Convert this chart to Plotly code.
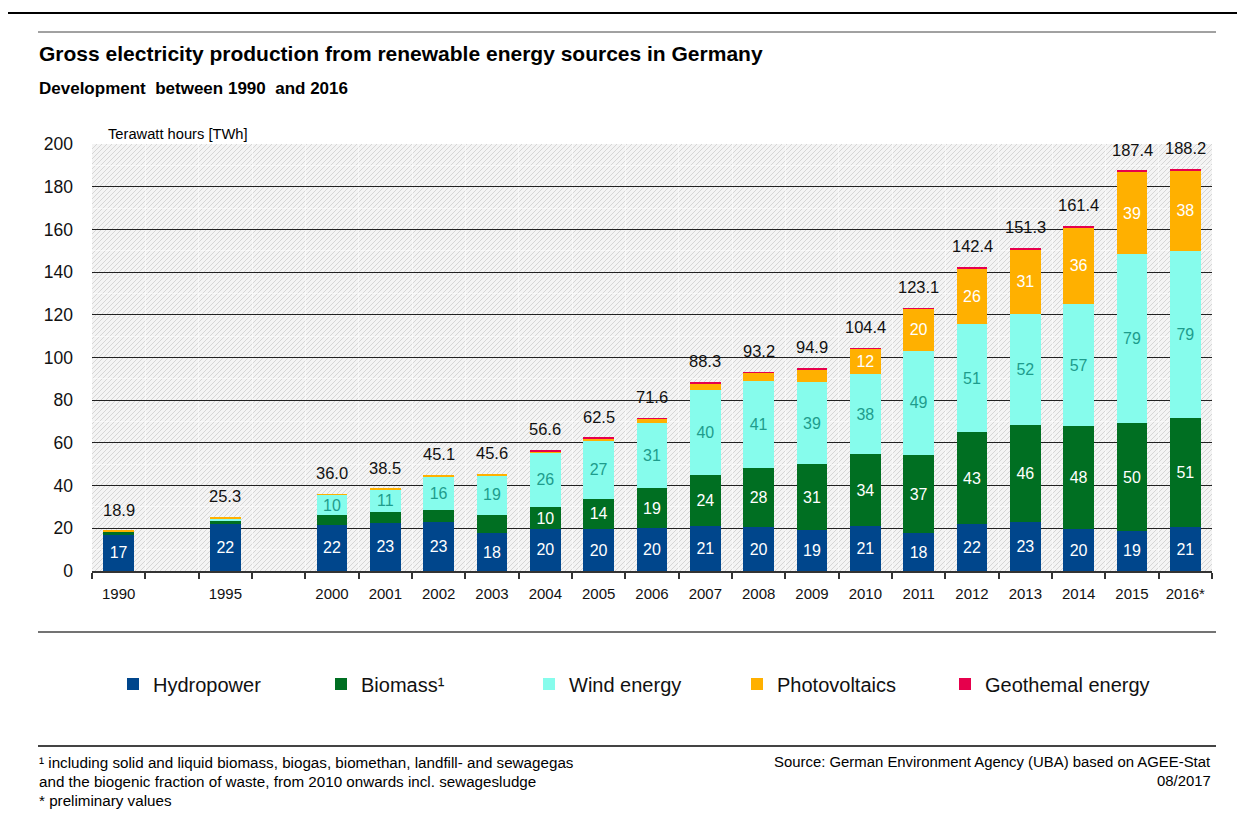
import base64
import plotly.graph_objects as go

# ---------------- data ----------------
years = ["1990", "1995", "2000", "2001", "2002", "2003", "2004", "2005", "2006", "2007",
         "2008", "2009", "2010", "2011", "2012", "2013", "2014", "2015", "2016*"]
hydro = [16.9, 21.8, 21.7, 22.7, 23.1, 17.8, 19.7, 19.6, 20.0, 21.2,
         20.4, 19.0, 21.0, 17.7, 21.8, 23.0, 19.6, 18.8, 20.6]
biomass = [1.5, 1.8, 4.3, 4.8, 5.3, 8.5, 10.2, 14.3, 18.8, 24.0,
           27.8, 30.9, 33.7, 36.6, 43.2, 45.5, 48.1, 50.3, 50.9]
wind = [0.1, 1.2, 9.6, 10.6, 15.9, 18.6, 25.7, 27.0, 30.7, 39.7,
        40.6, 38.6, 37.6, 48.9, 50.7, 51.7, 57.4, 79.2, 78.6]
pv = [0.4, 0.5, 0.4, 0.4, 0.8, 0.7, 0.5, 1.1, 1.7, 3.0,
      4.0, 6.0, 11.7, 19.6, 26.2, 30.6, 35.8, 38.6, 37.6]
geo = [0.0, 0.0, 0.0, 0.0, 0.0, 0.0, 0.4, 0.4, 0.4, 0.4,
       0.4, 0.4, 0.4, 0.3, 0.5, 0.5, 0.5, 0.5, 0.5]
totals = [18.9, 25.3, 36.0, 38.5, 45.1, 45.6, 56.6, 62.5, 71.6, 88.3,
          93.2, 94.9, 104.4, 123.1, 142.4, 151.3, 161.4, 187.4, 188.2]
gap_after = ["1990", "1995"]  # empty category slot after these years

series_names = ["Hydropower", "Biomass\u00b9", "Wind energy", "Photovoltaics", "Geothemal energy"]
series_values = [hydro, biomass, wind, pv, geo]
series_colors = ["#00468C", "#006F22", "#86FCEC", "#FFB000", "#E6004C"]
label_colors = ["white", "white", "#1E9C8C", "white", "white"]
label_min = [0, 9.5, 9.5, 9.5, 1000]

# category order with gap slots
cat_order = []
gap_i = 0
for y in years:
    cat_order.append(y)
    if y in gap_after:
        gap_i += 1
        cat_order.append(" " * gap_i)

# ---------------- geometry helpers (screen pixels; page body has 8px margin) ----------------
OFF = 8
W, H = 1245 - OFF, 816 - OFF
L, R, T, B = 92, 1212, 144, 571          # plot area in screen pixels
PW, PH = R - L, B - T


def X(px):
    return (px - L) / PW


def Y(py):
    return (B - py) / PH


FONT = "Liberation Sans, Arial, sans-serif"

fig = go.Figure()
for name, vals, col, lc, mn in zip(series_names, series_values, series_colors, label_colors, label_min):
    fig.add_trace(go.Bar(
        x=years, y=vals, name=name,
        marker=dict(color=col, line=dict(width=0)),
        text=[f"{v:.0f}" if v >= mn else "" for v in vals],
        textposition="inside", insidetextanchor="middle", textangle=0,
        constraintext="none",
        textfont=dict(family=FONT, size=16, color=lc),
        hoverinfo="skip",
    ))

# total labels above bars (x given as category index on the category axis)
for yr, tot in zip(years, totals):
    fig.add_annotation(x=cat_order.index(yr), y=tot, text=f"{tot:.1f}", showarrow=False,
                       yanchor="middle", yshift=21,
                       font=dict(family=FONT, size=16.5, color="#111111"))

# hatched background as svg image
svg = (f'<svg xmlns="http://www.w3.org/2000/svg" width="{PW}" height="{PH}" '
       f'viewBox="0 0 {PW} {PH}" preserveAspectRatio="none"><defs>'
       '<pattern id="h" width="5" height="5" patternUnits="userSpaceOnUse">'
       '<rect width="5" height="5" fill="#f4f4f4"/>'
       '<path d="M-1,1 L1,-1 M0,5 L5,0 M4,6 L6,4" stroke="#d6d6d6" stroke-width="1"/>'
       f'</pattern></defs><rect width="{PW}" height="{PH}" fill="url(#h)"/></svg>')
uri = "data:image/svg+xml;base64," + base64.b64encode(svg.encode()).decode()

shapes = [
    # frame
    dict(type="line", xref="paper", yref="paper", x0=X(7), x1=X(1260), y0=Y(13), y1=Y(13),
         line=dict(color="black", width=2)),
    dict(type="line", xref="paper", yref="paper", x0=X(7), x1=X(7), y0=Y(12), y1=Y(830),
         line=dict(color="black", width=2)),
    # separators
    dict(type="line", xref="paper", yref="paper", x0=X(38), x1=X(1216), y0=Y(32), y1=Y(32),
         line=dict(color="#444444", width=1)),
    dict(type="line", xref="paper", yref="paper", x0=X(38), x1=X(1216), y0=Y(632), y1=Y(632),
         line=dict(color="#444444", width=1.5)),
    dict(type="line", xref="paper", yref="paper", x0=X(38), x1=X(1216), y0=Y(746), y1=Y(746),
         line=dict(color="#444444", width=2)),
]

NB = "\u00a0"
texts = [
    dict(x=X(37), y=Y(53), text="<b>Gross electricity production from renewable energy sources in Germany</b>",
         xanchor="left", yanchor="middle", font=dict(family=FONT, size=21, color="black")),
    dict(x=X(37), y=Y(88), text=f"<b>Development {NB}between 1990 {NB}and 2016</b>",
         xanchor="left", yanchor="middle", font=dict(family=FONT, size=17, color="black")),
    dict(x=X(106), y=Y(134), text="Terawatt hours [TWh]",
         xanchor="left", yanchor="middle", font=dict(family=FONT, size=14.7, color="black")),
    dict(x=X(37), y=Y(762), text="\u00b9 including solid and liquid biomass, biogas, biomethan, landfill- and sewagegas",
         xanchor="left", yanchor="middle", font=dict(family=FONT, size=15.2, color="black")),
    dict(x=X(37), y=Y(781), text="and the biogenic fraction of waste, from 2010 onwards incl. sewagesludge",
         xanchor="left", yanchor="middle", font=dict(family=FONT, size=15.2, color="black")),
    dict(x=X(37), y=Y(800), text="* preliminary values",
         xanchor="left", yanchor="middle", font=dict(family=FONT, size=15.2, color="black")),
    dict(x=X(1213), y=Y(762), text="Source: German Environment Agency (UBA) based on AGEE-Stat",
         xanchor="right", yanchor="middle", font=dict(family=FONT, size=14.9, color="black")),
    dict(x=X(1213), y=Y(781), text="08/2017",
         xanchor="right", yanchor="middle", font=dict(family=FONT, size=14.9, color="black")),
]
for t in texts:
    fig.add_annotation(xref="paper", yref="paper", showarrow=False, **t)

fig.update_layout(
    width=W, height=H, autosize=False,
    margin=dict(l=L - OFF, r=W - (R - OFF), t=T - OFF, b=H - (B - OFF), pad=0),
    paper_bgcolor="white", plot_bgcolor="rgba(0,0,0,0)",
    barmode="stack", bargap=0.425,
    font=dict(family=FONT, color="#111111"),
    shapes=shapes,
    images=[dict(source=uri, xref="paper", yref="paper", x=0, y=1, sizex=1, sizey=1,
                 xanchor="left", yanchor="top", sizing="stretch", layer="below")],
    showlegend=True,
    legend=dict(orientation="h", x=X(113), xanchor="left", y=Y(684), yanchor="middle",
                traceorder="normal", entrywidth=163, entrywidthmode="pixels",
                font=dict(family=FONT, size=20, color="#111111"),
                bgcolor="rgba(0,0,0,0)"),
    xaxis=dict(type="category", categoryorder="array", categoryarray=cat_order,
               range=[-0.5, len(cat_order) - 0.5],
               tickson="boundaries", ticks="outside", ticklen=6, tickwidth=1.5, tickcolor="#333333",
               ticklabelstandoff=8,
               showline=True, linecolor="#333333", linewidth=2,
               showgrid=True, gridcolor="rgba(255,255,255,0.55)", gridwidth=1,
               tickfont=dict(family=FONT, size=15, color="#111111"), fixedrange=True),
    yaxis=dict(range=[0, 200], dtick=20, showgrid=True, gridcolor="#222222", gridwidth=1,
               zeroline=False, showline=False, ticks="", ticklabelstandoff=18,
               tickfont=dict(family=FONT, size=17.5, color="#111111"),
               minor=dict(dtick=10, showgrid=True, gridcolor="rgba(255,255,255,0.55)", gridwidth=1),
               fixedrange=True),
)

fig.write_html("out.html")
